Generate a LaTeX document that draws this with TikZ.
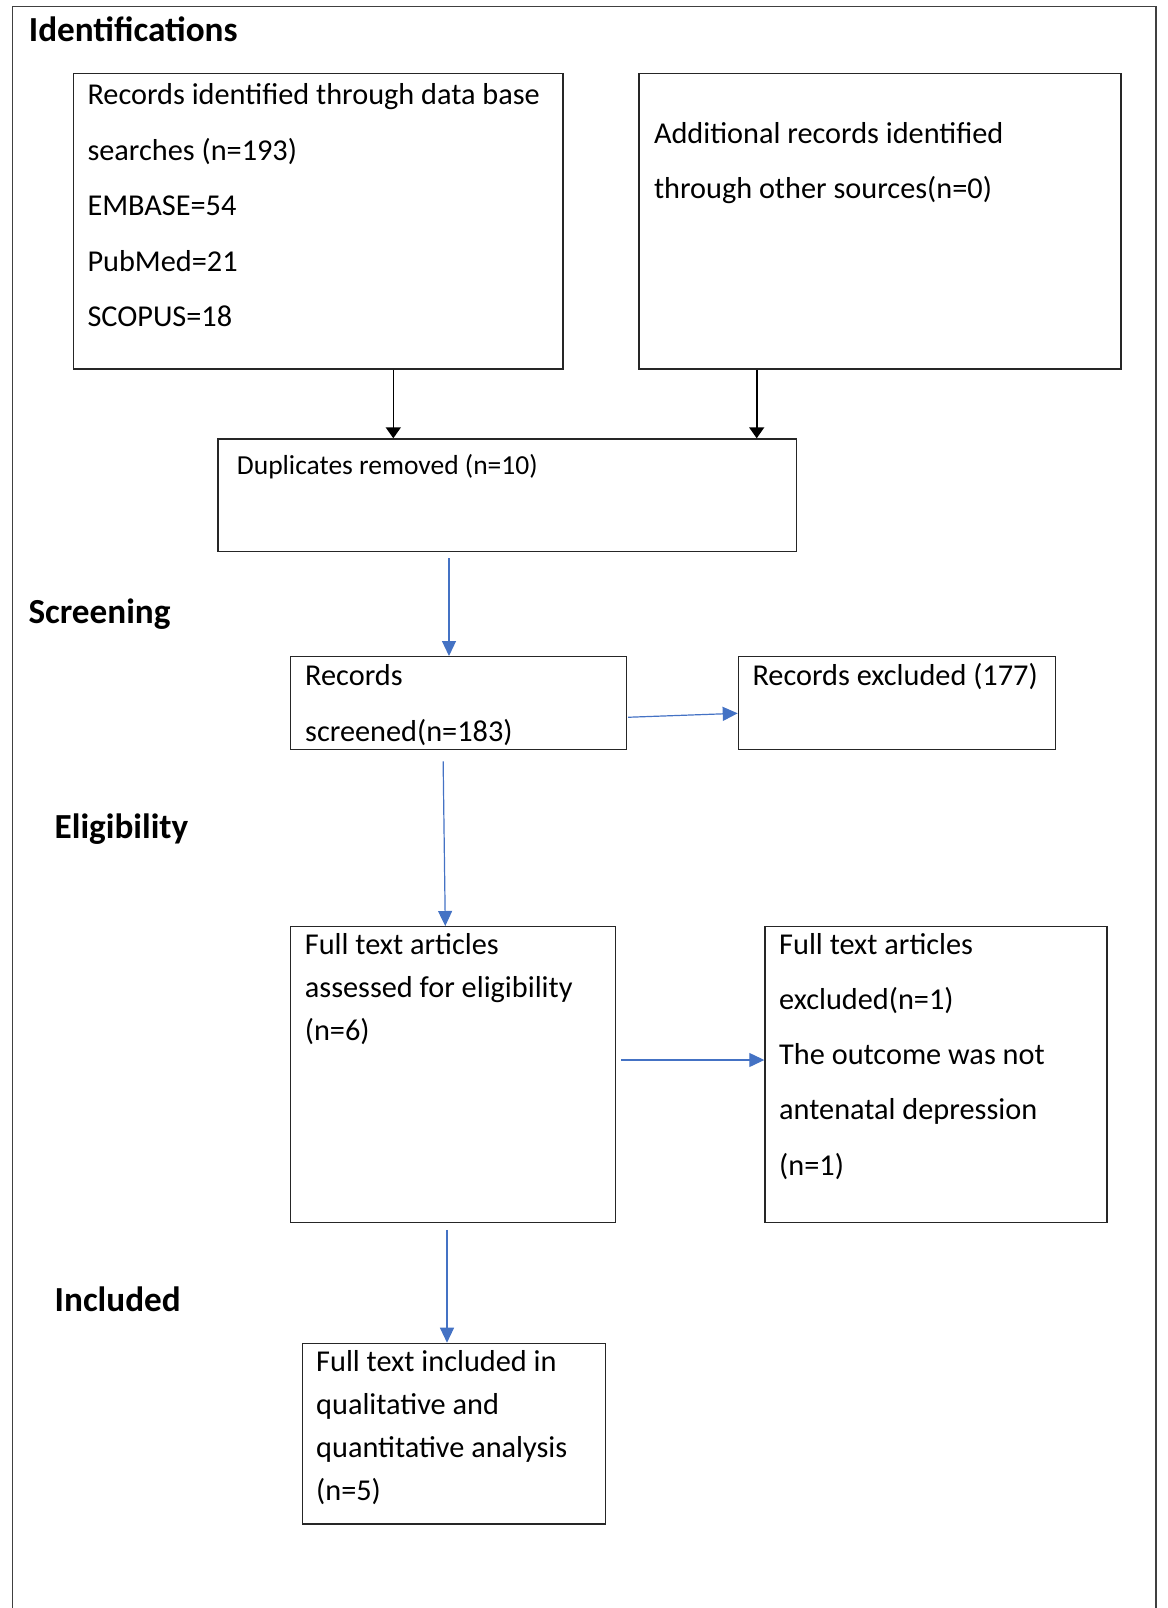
\documentclass[tikz,border=0pt]{standalone}
\usepackage{fontspec}
\setmainfont{Carlito}
\usetikzlibrary{arrows.meta}
\definecolor{arrowblue}{HTML}{4472C4}
\newcommand{\topstrut}{\rule{0pt}{28pt}}

\begin{document}
\begin{tikzpicture}[x=1pt, y=-1pt,
	box/.style={draw=black!85, line width=1.4pt, anchor=north west, inner sep=0pt},
	boxtext/.style={anchor=north west, inner sep=0pt, align=left, font=\fontsize{30.3}{#1}\selectfont},
	phase/.style={anchor=base west, inner sep=0pt, font=\fontsize{35.2}{40}\selectfont\bfseries},
	blk/.style={-{Triangle[length=11pt,width=15pt]}, line width=1.6pt},
	blu/.style={-{Triangle[length=15pt,width=14pt]}, line width=1.2pt, draw=arrowblue, color=arrowblue}]

\useasboundingbox (0,0) rectangle (1167,1608);
\draw[line width=1.6pt, black!75] (12.5,1608) -- (12.5,6.7) -- (1156,6.7) -- (1156,1608);

% phase headings
\node[phase] (ident) at (28.7,41.7) {Identifications};
\node[phase] (screen) at (28.3,623.3) {Screening};
\node[phase] (elig) at (54.5,838.3) {Eligibility};
\node[phase] (incl) at (54.5,1311.7) {Included};

% boxes
\node[box, minimum width=489.6, minimum height=295.6] (idbox) at (72.7,72.7) {};
\node[box, minimum width=482, minimum height=295.6] (addbox) at (638.3,72.7) {};
\node[box, minimum width=578.2, minimum height=112.7] (dupbox) at (217.3,438.3) {};
\node[box, minimum width=335.7, minimum height=93] (scrbox) at (290,656) {};
\node[box, minimum width=317, minimum height=93] (excbox) at (737.7,656) {};
\node[box, minimum width=325, minimum height=296] (elgbox) at (290,926) {};
\node[box, minimum width=342, minimum height=296] (fexbox) at (764.3,926) {};
\node[box, minimum width=303, minimum height=180.6] (incbox) at (301.7,1342.7) {};

% box texts (top of node = first baseline - 28)
\node[boxtext=55.5] (idtxt) at (87.3,76.5) {\topstrut Records identified through data base\\searches (n=193)\\EMBASE=54\\PubMed=21\\SCOPUS=18};
\node[boxtext=55] (addtxt) at (653.8,115) {\topstrut Additional records identified\\through other sources(n=0)};
\node[boxtext=55, font=\fontsize{27.5}{55}\selectfont] (duptxt) at (236.7,446) {\topstrut Duplicates removed (n=10)};
\node[boxtext=56.7] (scrtxt) at (305,657) {\topstrut Records\\screened(n=183)};
\node[boxtext=55] (exctxt) at (752.3,657) {\topstrut Records excluded (177)};
\node[boxtext=43] (elgtxt) at (304.7,926) {\topstrut Full text articles\\assessed for eligibility\\(n=6)};
\node[boxtext=55.2] (fextxt) at (779,926) {\topstrut Full text articles\\excluded(n=1)\\The outcome was not\\antenatal depression\\(n=1)};
\node[boxtext=42.8] (inctxt) at (316,1343.7) {\topstrut Full text included in\\qualitative and\\quantitative analysis\\(n=5)};

% connectors
\draw[blk] (idbox.south -| 393.3,0) -- (dupbox.north -| 393.3,0);
\draw[blk] (addbox.south -| 756.7,0) -- (dupbox.north -| 756.7,0);
\draw[blu, shorten <=6pt] (dupbox.south -| 449,0) -- (scrbox.north -| 449,0);
\draw[blu, shorten <=1pt] (scrbox.east |- 0,717.3) -- (excbox.west |- 0,713.3);
\draw[blu, shorten <=11pt] (scrbox.south -| 443,0) -- (elgbox.north -| 445.3,0);
\draw[blu, shorten <=5pt] (elgbox.east |- 0,1060) -- (fexbox.west |- 0,1060);
\draw[blu, shorten <=6.5pt] (elgbox.south -| 447,0) -- (incbox.north -| 447,0);
\end{tikzpicture}
\end{document}
